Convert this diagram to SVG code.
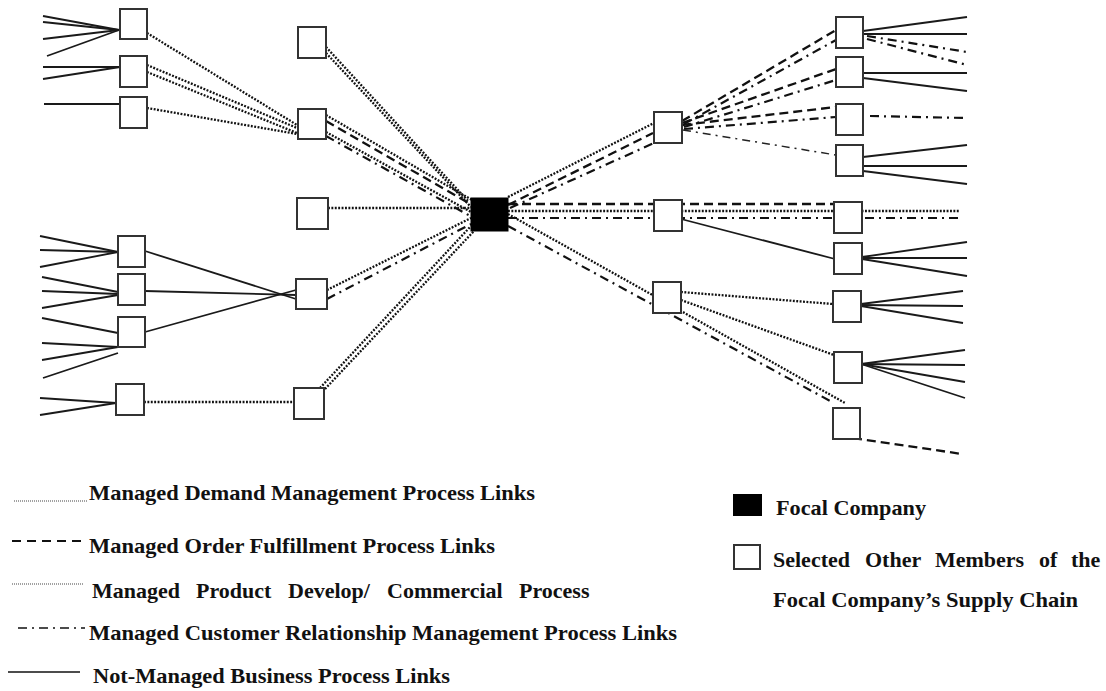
<svg xmlns="http://www.w3.org/2000/svg" width="1106" height="691" viewBox="0 0 1106 691">
  <style>
    .node { fill: #fff; stroke: #333; stroke-width: 2; }
    .focal { fill: #000; stroke: #000; stroke-width: 1; }
    line { fill: none; stroke-linecap: butt; }
    .solid { stroke: #1a1a1a; stroke-width: 1.8; }
    .dot { stroke: #111; stroke-width: 2.3; stroke-dasharray: 1.9 1.5; }
    .dash { stroke: #111; stroke-width: 2.3; stroke-dasharray: 9 5; }
    .dashdot { stroke: #111; stroke-width: 2.2; stroke-dasharray: 9 5 2 5; }
    .dashdot-thin { stroke: #222; stroke-width: 1.5; stroke-dasharray: 8 5 2 5; }
    .lg-dot { stroke: #444; stroke-width: 1.2; stroke-dasharray: 1 1; }
    .lg-dash { stroke: #111; stroke-width: 1.8; stroke-dasharray: 9 6; }
    .lg-dashdot { stroke: #111; stroke-width: 1.6; stroke-dasharray: 9 5 2 5; }
    .lg-solid { stroke: #111; stroke-width: 1.6; }
    text { font-family: "Liberation Serif", "Times New Roman", serif; font-weight: bold; font-size: 22px; fill: #111; }
  </style>

  <g id="connectors">
    <!-- not-managed links, left side -->
    <line class="solid" x1="43" y1="16" x2="119" y2="30"/>
    <line class="solid" x1="43" y1="22" x2="119" y2="30"/>
    <line class="solid" x1="43" y1="39" x2="119" y2="30"/>
    <line class="solid" x1="47" y1="56" x2="119" y2="30"/>
    <line class="solid" x1="43" y1="67" x2="120" y2="67"/>
    <line class="solid" x1="43" y1="79" x2="120" y2="67"/>
    <line class="solid" x1="44" y1="104" x2="120" y2="104"/>
    <line class="solid" x1="40" y1="236" x2="118" y2="252"/>
    <line class="solid" x1="40" y1="250" x2="118" y2="252"/>
    <line class="solid" x1="40" y1="267" x2="118" y2="252"/>
    <line class="solid" x1="42" y1="277" x2="118" y2="292"/>
    <line class="solid" x1="42" y1="291" x2="118" y2="294"/>
    <line class="solid" x1="42" y1="308" x2="118" y2="295"/>
    <line class="solid" x1="42" y1="318" x2="118" y2="333"/>
    <line class="solid" x1="42" y1="343" x2="118" y2="347"/>
    <line class="solid" x1="42" y1="360" x2="118" y2="347"/>
    <line class="solid" x1="43" y1="378" x2="118" y2="353"/>
    <line class="solid" x1="40" y1="398" x2="116" y2="403"/>
    <line class="solid" x1="40" y1="415" x2="116" y2="403"/>
    <line class="solid" x1="145" y1="251" x2="296" y2="299"/>
    <line class="solid" x1="145" y1="291" x2="296" y2="295"/>
    <line class="solid" x1="145" y1="332" x2="296" y2="290"/>

    <!-- managed links, left side -->
    <line class="dot" x1="147" y1="33" x2="297" y2="125"/>
    <line class="dot" x1="147" y1="65" x2="297" y2="128"/>
    <line class="dot" x1="147" y1="72" x2="297" y2="133"/>
    <line class="dot" x1="147" y1="108" x2="297" y2="134"/>
    <line class="dot" x1="144" y1="402" x2="294" y2="402"/>
    <line class="dot" x1="326" y1="47" x2="469" y2="202"/>
    <line class="dot" x1="326" y1="53" x2="471" y2="207"/>
    <line class="dot" x1="326" y1="115" x2="472" y2="200"/>
    <line class="dash" x1="326" y1="121" x2="472" y2="205"/>
    <line class="dot" x1="326" y1="132" x2="471" y2="212"/>
    <line class="dashdot" x1="326" y1="136" x2="472" y2="217"/>
    <line class="dot" x1="328" y1="208" x2="471" y2="208"/>
    <line class="dot" x1="327" y1="290" x2="471" y2="218"/>
    <line class="dashdot" x1="327" y1="299" x2="471" y2="224"/>
    <line class="dot" x1="320" y1="388" x2="471" y2="226"/>
    <line class="dot" x1="325" y1="389" x2="474" y2="231"/>

    <!-- managed links, right side -->
    <line class="dot" x1="508" y1="197" x2="654" y2="123"/>
    <line class="dash" x1="508" y1="205" x2="653" y2="133"/>
    <line class="dashdot" x1="510" y1="208" x2="654" y2="143"/>
    <line class="dash" x1="682" y1="121" x2="836" y2="30"/>
    <line class="dashdot" x1="684" y1="124" x2="836" y2="40"/>
    <line class="dash" x1="682" y1="123" x2="836" y2="69"/>
    <line class="dashdot" x1="684" y1="127" x2="836" y2="80"/>
    <line class="dash" x1="682" y1="125" x2="836" y2="107"/>
    <line class="dashdot" x1="684" y1="129" x2="836" y2="117"/>
    <line class="dashdot-thin" x1="683" y1="130" x2="836" y2="155"/>
    <line class="dash" x1="508" y1="204" x2="834" y2="204"/>
    <line class="dot" x1="508" y1="211" x2="960" y2="211"/>
    <line class="dashdot" x1="508" y1="218" x2="962" y2="218"/>
    <line class="dot" x1="508" y1="214" x2="845" y2="403"/>
    <line class="dashdot" x1="508" y1="226" x2="832" y2="402"/>
    <line class="dot" x1="681" y1="292" x2="833" y2="304"/>
    <line class="dot" x1="681" y1="300" x2="834" y2="355"/>
    <line class="dashdot" x1="867" y1="36" x2="967" y2="52"/>
    <line class="dashdot" x1="867" y1="39" x2="967" y2="65"/>
    <line class="dashdot" x1="870" y1="116" x2="967" y2="118"/>
    <line class="dash" x1="853" y1="438" x2="962" y2="454"/>

    <!-- not-managed links, right side -->
    <line class="solid" x1="681" y1="219" x2="835" y2="259"/>
    <line class="solid" x1="863" y1="31" x2="967" y2="17"/>
    <line class="solid" x1="863" y1="34" x2="967" y2="34"/>
    <line class="solid" x1="863" y1="73" x2="967" y2="73"/>
    <line class="solid" x1="863" y1="78" x2="967" y2="91"/>
    <line class="solid" x1="863" y1="157" x2="967" y2="145"/>
    <line class="solid" x1="863" y1="166" x2="967" y2="166"/>
    <line class="solid" x1="863" y1="171" x2="967" y2="184"/>
    <line class="solid" x1="862" y1="257" x2="967" y2="242"/>
    <line class="solid" x1="862" y1="258" x2="967" y2="258"/>
    <line class="solid" x1="862" y1="259" x2="967" y2="276"/>
    <line class="solid" x1="861" y1="304" x2="963" y2="291"/>
    <line class="solid" x1="861" y1="305" x2="963" y2="306"/>
    <line class="solid" x1="861" y1="306" x2="963" y2="323"/>
    <line class="solid" x1="861" y1="364" x2="965" y2="350"/>
    <line class="solid" x1="861" y1="364" x2="965" y2="365"/>
    <line class="solid" x1="861" y1="364" x2="965" y2="382"/>
    <line class="solid" x1="861" y1="364" x2="965" y2="398"/>
  </g>

  <!-- supply chain members, left tier 2 -->
  <g id="l1"><rect class="node" x="120" y="9" width="27" height="30"/></g>
  <g id="l2"><rect class="node" x="120" y="56" width="27" height="31"/></g>
  <g id="l3"><rect class="node" x="120" y="97" width="27" height="31"/></g>
  <g id="l4"><rect class="node" x="118" y="236" width="27" height="31"/></g>
  <g id="l5"><rect class="node" x="118" y="274" width="27" height="31"/></g>
  <g id="l6"><rect class="node" x="118" y="317" width="27" height="30"/></g>
  <g id="l7"><rect class="node" x="116" y="384" width="28" height="31"/></g>

  <!-- left tier 1 -->
  <g id="t1"><rect class="node" x="298" y="27" width="28" height="31"/></g>
  <g id="t2"><rect class="node" x="298" y="109" width="28" height="30"/></g>
  <g id="t3"><rect class="node" x="297" y="198" width="31" height="31"/></g>
  <g id="t4"><rect class="node" x="296" y="279" width="31" height="30"/></g>
  <g id="t5"><rect class="node" x="294" y="388" width="30" height="31"/></g>

  <!-- focal company -->
  <g id="focal"><rect class="focal" x="471" y="198" width="37" height="33"/></g>

  <!-- right tier 1 -->
  <g id="u1"><rect class="node" x="654" y="112" width="28" height="31"/></g>
  <g id="u2"><rect class="node" x="654" y="200" width="28" height="31"/></g>
  <g id="u3"><rect class="node" x="653" y="282" width="28" height="31"/></g>

  <!-- right tier 2 -->
  <g id="r1"><rect class="node" x="836" y="17" width="27" height="31"/></g>
  <g id="r2"><rect class="node" x="836" y="57" width="27" height="30"/></g>
  <g id="r3"><rect class="node" x="836" y="104" width="27" height="31"/></g>
  <g id="r4"><rect class="node" x="836" y="145" width="27" height="31"/></g>
  <g id="r5"><rect class="node" x="834" y="202" width="28" height="31"/></g>
  <g id="r6"><rect class="node" x="834" y="243" width="28" height="31"/></g>
  <g id="r7"><rect class="node" x="833" y="291" width="28" height="31"/></g>
  <g id="r8"><rect class="node" x="834" y="352" width="28" height="31"/></g>
  <g id="r9"><rect class="node" x="833" y="408" width="27" height="31"/></g>

  <!-- legend: link types -->
  <g id="legend-links">
    <line class="lg-dot" x1="14" y1="501" x2="88" y2="501"/>
    <text x="89" y="500" textLength="446" lengthAdjust="spacingAndGlyphs">Managed Demand Management Process Links</text>
    <line class="lg-dash" x1="12" y1="541" x2="84" y2="541"/>
    <text x="89" y="553" textLength="406" lengthAdjust="spacingAndGlyphs">Managed Order Fulfillment Process Links</text>
    <line class="lg-dot" x1="12" y1="584" x2="83" y2="584"/>
    <text y="598"><tspan x="92">Managed</tspan><tspan x="196">Product</tspan><tspan x="288">Develop/</tspan><tspan x="387">Commercial</tspan><tspan x="519">Process</tspan></text>
    <line class="lg-dashdot" x1="18" y1="628" x2="85" y2="628"/>
    <text x="89" y="640" textLength="588" lengthAdjust="spacingAndGlyphs">Managed Customer Relationship Management Process Links</text>
    <line class="lg-solid" x1="8" y1="672" x2="80" y2="672"/>
    <text x="93" y="683" textLength="357" lengthAdjust="spacingAndGlyphs">Not-Managed Business Process Links</text>
  </g>

  <!-- legend: member types -->
  <g id="legend-members">
    <rect x="733" y="494" width="29" height="22" fill="#000"/>
    <text x="776" y="515" textLength="150" lengthAdjust="spacingAndGlyphs">Focal Company</text>
    <rect class="node" x="734" y="545" width="26" height="24"/>
    <text y="567"><tspan x="773">Selected</tspan><tspan x="865">Other</tspan><tspan x="935">Members</tspan><tspan x="1039">of</tspan><tspan x="1071">the</tspan></text>
    <text x="773" y="607" textLength="305" lengthAdjust="spacingAndGlyphs">Focal Company’s Supply Chain</text>
  </g>
</svg>
